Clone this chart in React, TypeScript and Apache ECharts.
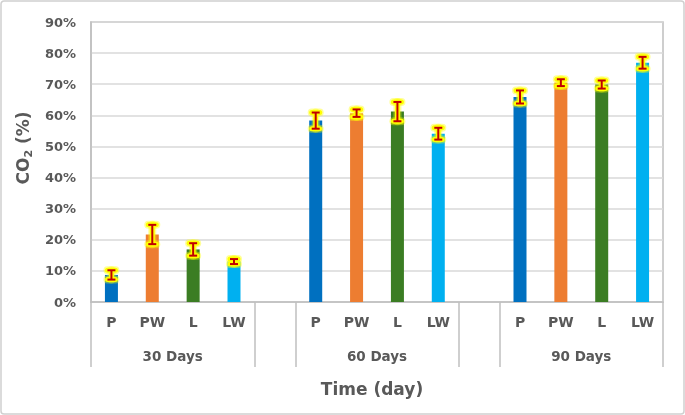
import React, { useEffect, useRef } from "react";
import * as echarts from "echarts";

const groups = ["30 Days", "60 Days", "90 Days"];
const treatments = ["P", "PW", "L", "LW"];
const colors = ["#0070C0", "#ED7D31", "#3B7D23", "#00B0F0"];
const means30 = [8.7, 21.7, 16.9, 13.0];
const means60 = [58.3, 60.7, 61.2, 54.1];
const means90 = [65.9, 70.5, 69.9, 76.9];
const err30 = [1.5, 3.1, 2.0, 0.8];
const err60 = [2.6, 1.2, 3.1, 1.9];
const err90 = [2.1, 1.1, 1.3, 1.9];
const yTicks = [0, 10, 20, 30, 40, 50, 60, 70, 80, 90];

const means = [means30, means60, means90];
const errs = [err30, err60, err90];

const FONT = "DejaVu Sans";
const GREY = "#595959";

export default function App() {
  const ref = useRef<HTMLDivElement>(null);

  useEffect(() => {
    if (!ref.current) return;
    const chart = echarts.init(ref.current, null, { renderer: "svg" });

    const step = treatments.length + 1;
    const cats: string[] = [];
    const barData: any[] = [];
    const errData: number[][] = [];
    groups.forEach((g, gi) => {
      treatments.forEach((t, ti) => {
        const idx = cats.length;
        cats.push(t);
        barData.push({ value: means[gi][ti], itemStyle: { color: colors[ti] } });
        errData.push([idx, means[gi][ti] - errs[gi][ti], means[gi][ti] + errs[gi][ti]]);
      });
      if (gi < groups.length - 1) {
        cats.push("");
        barData.push("-");
      }
    });
    const total = cats.length;
    const dividers: number[] = [];
    const centers: number[] = [];
    groups.forEach((g, gi) => {
      const s = gi * step;
      dividers.push(s, s + treatments.length);
      centers.push(s + treatments.length / 2);
    });

    const option: any = {
      animation: false,
      textStyle: { fontFamily: FONT },
      grid: {
        left: 91,
        right: 22,
        top: 22,
        bottom: 113,
        show: true,
        borderColor: "#BFBFBF",
        borderWidth: 1.5,
      },
      xAxis: [
        {
          type: "category",
          data: cats,
          boundaryGap: true,
          axisLine: { show: true, lineStyle: { color: "#BFBFBF", width: 1.5 } },
          axisTick: { show: false },
          axisLabel: {
            interval: 0,
            margin: 13,
            fontSize: 14,
            fontWeight: "bold",
            color: GREY,
            fontFamily: FONT,
          },
          splitLine: { show: false },
        },
        {
          type: "value",
          min: 0,
          max: total,
          position: "bottom",
          axisLine: { show: false },
          splitLine: { show: false },
          axisTick: {
            show: true,
            customValues: dividers,
            length: 65,
            lineStyle: { color: "#BFBFBF", width: 1.5 },
          },
          axisLabel: {
            show: true,
            customValues: centers,
            margin: 47,
            fontSize: 13.5,
            fontWeight: "bold",
            color: GREY,
            fontFamily: FONT,
            formatter: (v: number) => {
              const i = centers.indexOf(v);
              return i >= 0 ? groups[i] : "";
            },
          },
        },
      ],
      yAxis: {
        type: "value",
        min: yTicks[0],
        max: yTicks[yTicks.length - 1],
        interval: 10,
        axisLine: { show: true, lineStyle: { color: "#BFBFBF", width: 1.5 } },
        axisTick: { show: false },
        axisLabel: {
          formatter: "{value}%",
          margin: 15,
          fontSize: 13,
          fontWeight: "bold",
          color: GREY,
          fontFamily: FONT,
        },
        splitLine: { lineStyle: { color: "#D9D9D9", width: 1.5 } },
      },
      series: [
        {
          type: "bar",
          xAxisIndex: 0,
          data: barData,
          barWidth: 13,
          z: 2,
        },
        {
          type: "custom",
          xAxisIndex: 0,
          z: 5,
          data: errData,
          encode: { x: 0, y: [1, 2] },
          renderItem: (params: any, api: any) => {
            const x = api.coord([api.value(0), 0])[0];
            const lo = api.coord([api.value(0), api.value(1)])[1];
            const hi = api.coord([api.value(0), api.value(2)])[1];
            const hw = 4;
            const shapes = [
              { x1: x, y1: lo, x2: x, y2: hi },
              { x1: x - hw, y1: lo, x2: x + hw, y2: lo },
              { x1: x - hw, y1: hi, x2: x + hw, y2: hi },
            ];
            const halo = shapes.map((s) => ({
              type: "line",
              shape: s,
              style: {
                stroke: "rgba(255,255,0,0.4)",
                lineWidth: 8,
                lineCap: "round",
              },
            }));
            const glow = shapes.map((s) => ({
              type: "line",
              shape: s,
              style: {
                stroke: "#FFFF00",
                lineWidth: 5,
                lineCap: "round",
              },
            }));
            const red = shapes.map((s) => ({
              type: "line",
              shape: s,
              style: { stroke: "#C00000", lineWidth: 2, lineCap: "butt" },
            }));
            return { type: "group", children: [...halo, ...glow, ...red] };
          },
        },
      ],
      graphic: [
        {
          type: "rect",
          silent: true,
          shape: { x: 1, y: 1, width: 683, height: 413, r: 3 },
          style: { fill: "none", stroke: "#D0D0D0", lineWidth: 1.5 },
        },
        {
          type: "text",
          x: 372,
          y: 389,
          style: {
            text: "Time (day)",
            font: `bold 17px "${FONT}"`,
            fill: GREY,
            align: "center",
            verticalAlign: "middle",
          },
        },
        {
          type: "text",
          x: 23,
          y: 148,
          rotation: Math.PI / 2,
          style: {
            text: "{a|CO}{b|2}{a| (%)}",
            align: "center",
            verticalAlign: "middle",
            fill: GREY,
            rich: {
              a: {
                fontSize: 17,
                fontWeight: "bold",
                fontFamily: FONT,
                fill: GREY,
                color: GREY,
                lineHeight: 22,
              },
              b: {
                fontSize: 11,
                fontWeight: "bold",
                fontFamily: FONT,
                fill: GREY,
                color: GREY,
                lineHeight: 12,
                verticalAlign: "bottom",
              },
            },
          },
        },
      ],
    };

    chart.setOption(option);
    return () => chart.dispose();
  }, []);

  return (
    <div
      ref={ref}
      style={{ position: "fixed", left: 0, top: 0, width: 685, height: 415 }}
    />
  );
}
